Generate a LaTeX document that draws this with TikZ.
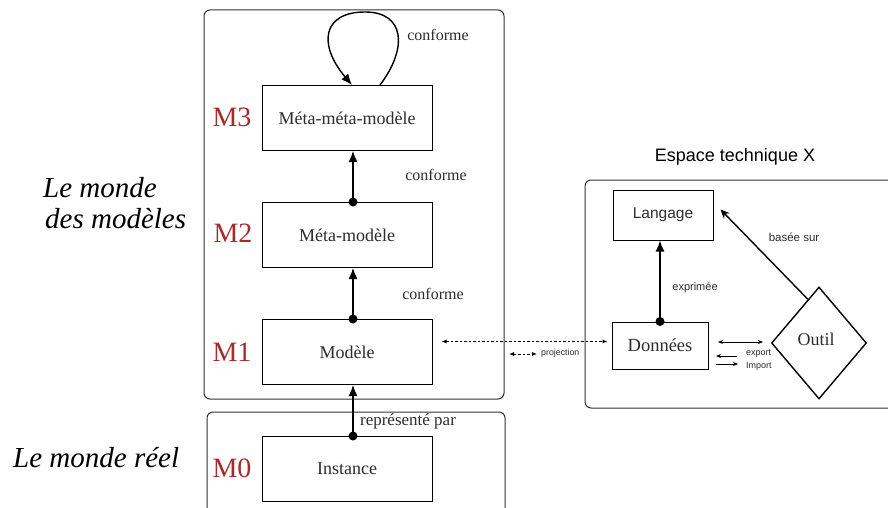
\documentclass[tikz,border=0pt]{standalone}
\usepackage{fontspec}
\setmainfont{Liberation Serif}
\newfontfamily\timesf{Liberation Serif}
\newfontfamily\arialf{Liberation Sans}
\usetikzlibrary{arrows.meta,shapes.geometric,calc}
\definecolor{mred}{RGB}{168,42,42}
\definecolor{txt}{RGB}{45,45,45}
\definecolor{frame}{RGB}{50,50,50}
\tikzset{
  lvlbox/.style={draw=black, line width=1pt, minimum width=170pt, minimum height=65pt, inner sep=0pt, text=txt, font=\timesf\fontsize{18}{20}\selectfont},
  mlabel/.style={text=mred, font=\timesf\fontsize{28}{30}\selectfont, inner sep=0pt},
  conf/.style={text=txt, font=\timesf\fontsize{16}{18}\selectfont, inner sep=0pt},
  world/.style={text=black, font=\timesf\fontsize{29}{31}\selectfont\itshape, inner sep=0pt, anchor=base west},
  outer/.style={draw=frame, line width=1pt, rounded corners=6pt},
  conform/.style={line width=1.4pt, -{Latex[length=11pt,width=9pt]}},
  dot/.style={fill=black},
  thin/.style={line width=0.8pt, -{Stealth[length=5pt,width=4pt]}},
  proj/.style={line width=0.8pt, dashed, dash pattern=on 2.5pt off 2pt, {Latex[length=5pt,width=4pt]}-{Latex[length=5pt,width=4pt]}},
  sanslbl/.style={text=txt, inner sep=0pt, font=\arialf\fontsize{11}{13}\selectfont}
}
\begin{document}
\begin{tikzpicture}[x=1pt,y=-1pt]
\useasboundingbox (0,0) rectangle (888,508);
\fill[white] (0,0) rectangle (888,508);

% outer frames
\draw[outer] (204,10) rectangle (504,399);
\draw[outer] (207,412) rectangle (505,530);
\draw[outer] (585,180) rectangle (910,408);

% level boxes
\node[lvlbox] (m3) at (347,118) {Méta-méta-modèle};
\node[lvlbox] (m2) at (347,235) {Méta-modèle};
\node[lvlbox] (m1) at (347,352) {Modèle};
\node[lvlbox] (m0) at (347,469) {Instance};

% level labels
\node[mlabel] (l3) at (232,117) {M3};
\node[mlabel] (l2) at (233,233) {M2};
\node[mlabel] (l1) at (232,352) {M1};
\node[mlabel] (l0) at (232,468) {M0};

% world labels
\node[world] (w1) at (43,197) {Le monde};
\node[world] (w2) at (45,228) {des modèles};
\node[world] (w3) at (13,467) {Le monde réel};

% conform arrows
\coordinate (s2) at ([xshift=6pt]m2.north);
\coordinate (s1) at ([xshift=6pt]m1.north);
\coordinate (s0) at ([xshift=6pt]m0.north);
\draw[conform] (s2) -- (s2 |- m3.south);
\draw[conform] (s1) -- (s1 |- m2.south);
\draw[conform] (s0) -- (s0 |- m1.south);
\fill[dot] (s2) circle (4.5pt);
\fill[dot] (s1) circle (4.5pt);
\fill[dot] (s0) circle (4.5pt);

% self loop
\coordinate (la) at ([xshift=33pt]m3.north);
\coordinate (lb) at ([xshift=5pt]m3.north);
\draw[conform] (la) .. controls (408,48) and (405,12) .. (365,12)
  .. controls (322,12) and (318,45) .. (lb);

\node[conf] (c3) at (438,35) {conforme};
\node[conf] (c2) at (436,175) {conforme};
\node[conf] (c1) at (433,294) {conforme};
\node[text=txt, inner sep=0pt, font=\timesf\fontsize{17}{19}\selectfont] (rp) at (408,421) {représenté par};

% technical space
\node[text=black, inner sep=0pt, font=\arialf\fontsize{18}{20}\selectfont] (esp) at (735,157) {Espace technique X};
\node[draw=black, line width=1pt, minimum width=100pt, minimum height=50pt, inner sep=0pt, text=txt, font=\arialf\fontsize{15.5}{18}\selectfont] (lang) at (663,215) {Langage};
\node[draw=black, line width=1pt, minimum width=96pt, minimum height=47pt, inner sep=0pt, text=txt, font=\timesf\fontsize{18.5}{20}\selectfont] (don) at (660,345.5) {Données};
\node[draw=black, line width=1.4pt, shape=diamond, minimum width=95pt, minimum height=112pt, inner sep=0pt] (outil) at (819,343) {};
\node[text=txt, inner sep=0pt, font=\timesf\fontsize{18}{20}\selectfont] (outiltxt) at (816,339) {Outil};

% exprimée
\draw[conform] (don.north) -- (don.north |- lang.south);
\fill[dot] (don.north) circle (4.5pt);
\node[sanslbl] (expr) at (695,288) {exprimée};

% basée sur
\coordinate (bs) at ($(outil.north)!0.23!(outil.west)$);
\draw[line width=1.4pt, -{Stealth[length=9pt,width=8pt]}] (bs) -- ([xshift=7pt,yshift=-20pt]lang.north east);
\node[sanslbl, font=\arialf\fontsize{11.5}{13}\selectfont] (bsur) at (794,237) {basée sur};

% exchange arrows
\coordinate (x1) at (718,342);
\coordinate (x2) at (763,342);
\draw[line width=0.8pt, {Stealth[length=5pt,width=4pt]}-{Stealth[length=5pt,width=4pt]}] (x1) -- (x2);
\coordinate (e1) at (737,356);
\coordinate (e2) at (716,356);
\draw[thin] (e1) -- (e2);
\coordinate (i1) at (716,364);
\coordinate (i2) at (738,364);
\draw[thin] (i1) -- (i2);
\node[sanslbl, anchor=west, font=\arialf\fontsize{9}{10}\selectfont] (exp) at (746,354) {export};
\node[sanslbl, anchor=west, font=\arialf\fontsize{9}{10}\selectfont] (imp) at (746,366) {Import};

% projection
\coordinate (p1) at ([xshift=9pt,yshift=10.5pt]m1.east);
\draw[proj] (p1) -- ([xshift=-4pt]p1 -| don.west);
\coordinate (q1) at (509,354);
\coordinate (q2) at (537,354);
\draw[proj] (q1) -- (q2);
\node[sanslbl, anchor=west, font=\arialf\fontsize{8.8}{10}\selectfont] (projl) at (541,353) {projection};
\end{tikzpicture}
\end{document}
